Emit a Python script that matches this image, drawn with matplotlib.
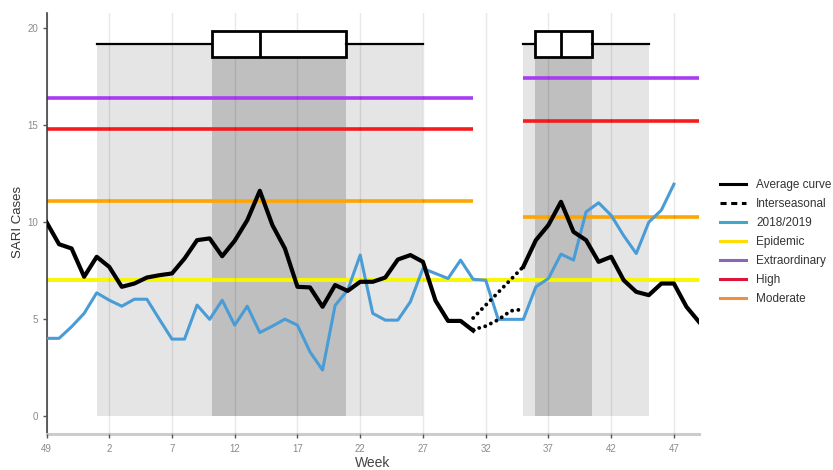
import matplotlib
matplotlib.use("Agg")
import matplotlib.pyplot as plt
from matplotlib.lines import Line2D

# ---------------- data ----------------
week_labels = ['49', '2', '7', '12', '17', '22', '27', '32', '37', '42', '47']
# epidemiological weeks in sequence (index 0 = week 49)
epi_weeks = [49, 50, 51, 52] + list(range(1, 50))

avg_season1 = [10.0, 8.86, 8.64, 7.18, 8.21, 7.69, 6.66, 6.83, 7.14, 7.26,
               7.35, 8.12, 9.07, 9.16, 8.24, 9.04, 10.1, 11.62, 9.85, 8.64,
               6.66, 6.63, 5.63, 6.75, 6.45, 6.92, 6.92, 7.14, 8.07, 8.3,
               7.95, 5.95, 4.9, 4.9, 4.4]
avg_season2 = [7.7, 9.07, 9.85, 11.05, 9.5, 9.07, 7.95, 8.21, 7.0, 6.4,
               6.23, 6.83, 6.83, 5.63, 4.85]
inter_upper = [5.05, 7.7]            # weeks index 34 and 38
inter_lower = [4.45, 4.63, 4.96, 5.42, 5.5]   # index 34..38
series_2018 = [4.0, 4.0, 4.6, 5.29, 6.35, 5.97, 5.66, 6.02, 6.02, 4.98,
               3.96, 3.96, 5.72, 4.98, 5.97, 4.68, 5.66, 4.3, 4.63, 4.99,
               4.68, 3.3, 2.36, 5.7, 6.49, 8.3, 5.29, 4.94, 4.94, 5.89,
               7.61, 7.35, 7.09, 8.04, 7.05, 7.0, 4.98, 4.98, 4.98, 6.66,
               7.09, 8.35, 8.04, 10.53, 11.0, 10.35, 9.3, 8.38, 10.0, 10.62,
               11.96]

epidemic = 7.0
thr_season1 = {'Extraordinary': 16.42, 'High': 14.79, 'Moderate': 11.1}
thr_season2 = {'Extraordinary': 17.43, 'High': 15.23, 'Moderate': 10.27}

# box plot stats of season start/peak/end (index units)
box1 = dict(whislo=4, q1=13.2, med=17, q3=23.9, whishi=30)
box2 = dict(whislo=38, q1=38.9, med=41, q3=43.5, whishi=48)

# ---------------- plotting ----------------
plt.rcParams['font.family'] = ['Liberation Sans', 'DejaVu Sans']
fig = plt.figure(figsize=(8.33, 4.70), dpi=100)
ax = fig.add_axes([46.5 / 833, 36 / 470, (699 - 46.5) / 833, (457 - 36) / 470])

n = len(epi_weeks)
idx_all = list(range(n))
s1_start, s1_end = 0, len(avg_season1) - 1
s2_start = n - len(avg_season2)
box_y = 19.2
box_h = 1.36

light = '#e5e5e5'
dark = '#bfbfbf'
for b in (box1, box2):
    ax.fill_between([b['whislo'], b['whishi']], 0, box_y, color=light, lw=0, zorder=0)
    ax.fill_between([b['q1'], b['q3']], 0, box_y, color=dark, lw=0, zorder=0.5)

ax.grid(axis='x', color='#000000', alpha=0.09, lw=1.0, zorder=1)
ax.set_axisbelow(False)

c_purple, c_red, c_orange, c_yellow, c_blue = '#a83cf0', '#f41c1c', '#ffa500', '#f7f700', '#4a9cd6'
thr_colors = {'Extraordinary': c_purple, 'High': c_red, 'Moderate': c_orange}
for k, v in thr_season1.items():
    ax.plot([s1_start, s1_end], [v, v], color=thr_colors[k], lw=2.6, zorder=2, solid_capstyle='butt')
for k, v in thr_season2.items():
    ax.plot([s2_start, n - 1], [v, v], color=thr_colors[k], lw=2.6, zorder=2, solid_capstyle='butt')
ax.plot([0, n - 1], [epidemic, epidemic], color=c_yellow, lw=2.8, zorder=2, solid_capstyle='butt')

ax.plot(idx_all[:len(series_2018)], series_2018, color=c_blue, lw=2.2, zorder=3)
ax.plot(idx_all[s1_start:s1_end + 1], avg_season1, color='black', lw=3.0, zorder=4,
        solid_joinstyle='round')
ax.plot(idx_all[s2_start:], avg_season2, color='black', lw=3.0, zorder=4,
        solid_joinstyle='round')
dots = (0, (0.01, 1.6))
ax.plot([s1_end, s2_start], inter_upper, color='black', lw=2.8, zorder=4,
        linestyle=dots, dash_capstyle='round')
ax.plot(idx_all[s1_end:s2_start + 1], inter_lower, color='black', lw=2.8, zorder=4,
        linestyle=dots, dash_capstyle='round')

stats = []
for b in (box1, box2):
    d = dict(b)
    d['fliers'] = []
    stats.append(d)
ax.bxp(stats, positions=[box_y, box_y], widths=box_h, vert=False, showcaps=False,
       showfliers=False, patch_artist=True,
       boxprops=dict(facecolor='white', edgecolor='black', lw=2.0),
       medianprops=dict(color='black', lw=2.0),
       whiskerprops=dict(color='black', lw=1.6), zorder=5, manage_ticks=False)

ax.set_xlim(0, n - 1)
ax.set_ylim(-0.94, 20.8)
ax.set_xticks(idx_all[::5][:len(week_labels)])
ax.set_xticklabels(week_labels)
ax.set_yticks([0, 5, 10, 15, 20])
ax.tick_params(axis='both', labelsize=7, labelcolor='#8a8a8a', color='#555555',
               length=3, width=1)
ax.tick_params(axis='x', pad=4)
ax.tick_params(axis='y', pad=3)
for side in ('top', 'right'):
    ax.spines[side].set_visible(False)
ax.spines['left'].set_color('#444444')
ax.spines['left'].set_linewidth(1.2)
ax.spines['bottom'].set_color('#cccccc')
ax.spines['bottom'].set_linewidth(2.2)

fig.text(373 / 833, 1 - 463 / 470, 'Week', ha='center', va='center', fontsize=10, color='#444444')
fig.text(18 / 833, 1 - 222 / 470, 'SARI Cases', ha='center', va='center', rotation=90,
         fontsize=9.5, color='#333333')

handles = [
    Line2D([], [], color='black', lw=2.2),
    Line2D([], [], color='black', lw=2.2, linestyle=(0, (2, 1.5))),
    Line2D([], [], color='#40a8c8', lw=2.2),
    Line2D([], [], color='#ffdd00', lw=2.2),
    Line2D([], [], color='#8a66b0', lw=2.2),
    Line2D([], [], color='#dc143c', lw=2.2),
    Line2D([], [], color='#f0903c', lw=2.2),
]
labels = ['Average curve', 'Interseasonal', '2018/2019', 'Epidemic', 'Extraordinary', 'High', 'Moderate']
fig.legend(handles, labels, loc='upper left', bbox_to_anchor=(720 / 833, 1 - 179 / 470),
           frameon=False, fontsize=8.5, handlelength=2.2, handletextpad=0.85,
           labelspacing=0.6, borderaxespad=0, borderpad=0, labelcolor='#333333')

fig.savefig('out.png', dpi=100)
